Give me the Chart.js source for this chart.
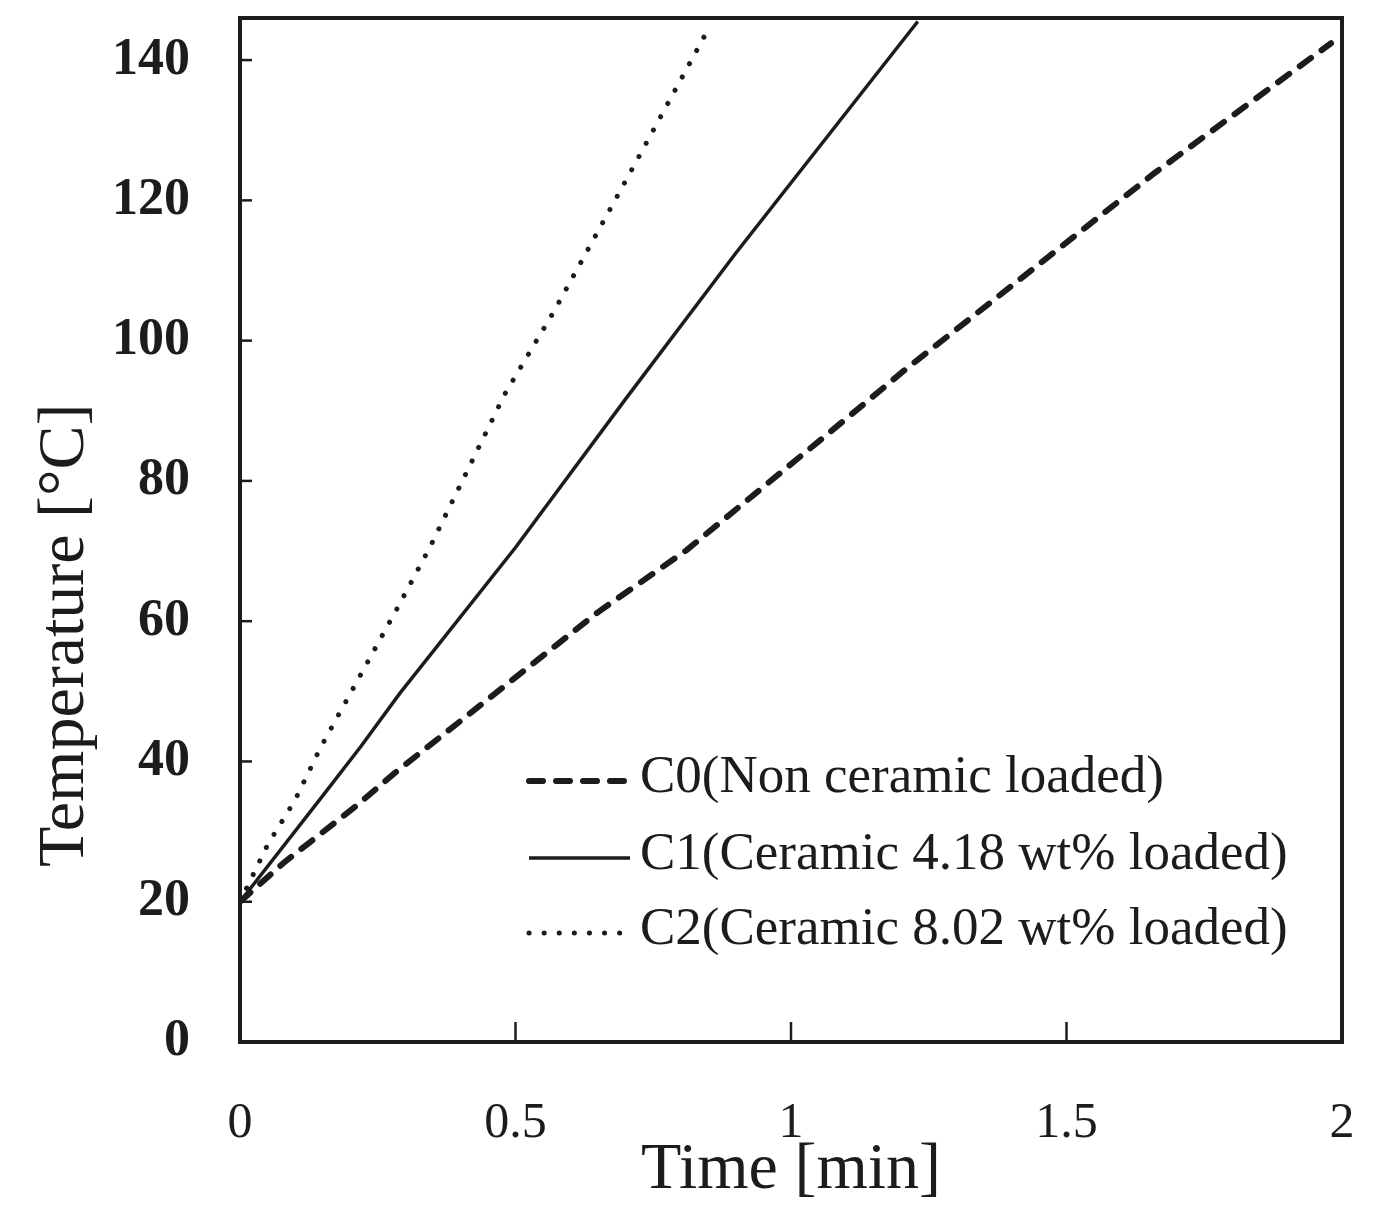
<!DOCTYPE html>
<html>
<head>
<meta charset="utf-8">
<title>Temperature vs time</title>
<script src="https://cdn.jsdelivr.net/npm/chart.js@4.4.1/dist/chart.umd.min.js"></script>
<style>
  html, body { margin: 0; padding: 0; background: #fff; }
  #chart { display: block; }
</style>
</head>
<body>
<canvas id="chart" width="1397" height="1214"></canvas>
<script>
// Values
const seriesNames = [
  'C0(Non ceramic loaded)',
  'C1(Ceramic 4.18 wt% loaded)',
  'C2(Ceramic 8.02 wt% loaded)'
];

const timeC0 = [0, 0.08, 0.21, 0.28, 0.65, 0.81, 1.13, 1.2, 1.66, 1.98];
const tempC0 = [20, 25.6, 33.6, 38.3, 61.3, 70.1, 90.8, 95.4, 123.9, 142.4];

const timeC1 = [0, 0.15, 0.22, 0.29, 0.5, 0.7, 0.9, 1.23];
const tempC1 = [20, 35.1, 42.2, 49.7, 70.5, 91.7, 112.5, 145.5];

const timeC2 = [0, 0.05, 0.1, 0.145, 0.29, 0.345, 0.48, 0.57, 0.705, 0.845];
const tempC2 = [20, 28.1, 34.5, 41.8, 62.5, 70.6, 92.3, 104.2, 123.5, 143.7];

const xTicks = [0, 0.5, 1, 1.5, 2];
const yTicks = [0, 20, 40, 60, 80, 100, 120, 140];

const xTitle = 'Time [min]';
const yTitle = 'Temperature [°C]';

const ink = '#1c1c1c';
const serif = '"Liberation Serif", "Times New Roman", serif';

function toPoints(xs, ys) {
  return xs.map((x, i) => ({ x: x, y: ys[i] }));
}

// no extra room for overhanging tick labels, the frame is placed by layout padding
function noScalePadding(scale) {
  scale.paddingLeft = 0;
  scale.paddingRight = 0;
  scale.paddingTop = 0;
  scale.paddingBottom = 0;
}

// Box frame, inward tick marks, the y title (sits low in the original) and the legend
const framePlugin = {
  id: 'frame',
  afterDatasetsDraw(chart) {
    const { ctx, chartArea: a, scales } = chart;
    ctx.save();
    ctx.strokeStyle = ink;
    ctx.lineWidth = 4;
    ctx.strokeRect(a.left, a.top, a.right - a.left, a.bottom - a.top);

    // inner ticks
    ctx.lineWidth = 2.5;
    yTicks.forEach(v => {
      if (v === 0) return;
      const y = scales.y.getPixelForValue(v);
      ctx.beginPath();
      ctx.moveTo(a.left, y);
      ctx.lineTo(a.left + 12, y);
      ctx.stroke();
    });
    xTicks.forEach(v => {
      if (v === 0 || v === 2) return;
      const x = scales.x.getPixelForValue(v);
      ctx.beginPath();
      ctx.moveTo(x, a.bottom);
      ctx.lineTo(x, a.bottom - 20);
      ctx.stroke();
    });

    // y title
    ctx.save();
    ctx.translate(66, scales.y.getPixelForValue(58));
    ctx.rotate(-Math.PI / 2);
    ctx.font = '66px ' + serif;
    ctx.fillStyle = ink;
    ctx.textAlign = 'center';
    ctx.textBaseline = 'middle';
    ctx.fillText(yTitle, 0, 0);
    ctx.restore();

    // legend
    const rows = [760, 837, 912];
    ctx.font = '53px ' + serif;
    ctx.textAlign = 'left';
    ctx.textBaseline = 'middle';
    chart.data.datasets.forEach((ds, i) => {
      const y = a.top + rows[i];
      ctx.beginPath();
      ctx.strokeStyle = ink;
      ctx.lineWidth = ds.borderWidth;
      ctx.lineCap = ds.borderCapStyle || 'butt';
      ctx.setLineDash(ds.borderDash || []);
      ctx.moveTo(529, y + 3);
      ctx.lineTo(630, y + 3);
      ctx.stroke();
      ctx.setLineDash([]);
      ctx.fillStyle = ink;
      ctx.fillText(ds.label, 640, y);
    });
    ctx.restore();
  }
};

const ctx = document.getElementById('chart').getContext('2d');
new Chart(ctx, {
  type: 'scatter',
  data: {
    datasets: [
      {
        label: seriesNames[0],
        data: toPoints(timeC0, tempC0),
        showLine: true,
        borderColor: ink,
        borderWidth: 6,
        borderDash: [14, 13],
        borderCapStyle: 'round',
        pointRadius: 0,
        tension: 0
      },
      {
        label: seriesNames[1],
        data: toPoints(timeC1, tempC1),
        showLine: true,
        borderColor: ink,
        borderWidth: 3.5,
        pointRadius: 0,
        tension: 0
      },
      {
        label: seriesNames[2],
        data: toPoints(timeC2, tempC2),
        showLine: true,
        borderColor: ink,
        borderWidth: 5,
        borderDash: [0.1, 15],
        borderCapStyle: 'round',
        pointRadius: 0,
        tension: 0
      }
    ]
  },
  options: {
    responsive: false,
    animation: false,
    devicePixelRatio: 1,
    layout: { padding: { top: 18, right: 55, left: 0, bottom: 0 } },
    plugins: {
      legend: { display: false },
      tooltip: { enabled: false }
    },
    scales: {
      x: {
        type: 'linear',
        min: 0,
        max: 2,
        afterFit(scale) { scale.height = 172; noScalePadding(scale); },
        afterBuildTicks(scale) { scale.ticks = xTicks.map(v => ({ value: v })); },
        grid: { display: false, drawTicks: false },
        border: { display: false },
        ticks: {
          padding: 52,
          color: ink,
          font: { family: serif, size: 50 },
          maxRotation: 0,
          callback: v => String(v)
        },
        title: {
          display: true,
          text: xTitle,
          color: ink,
          padding: { top: 0, bottom: 4 },
          font: { family: serif, size: 66 }
        }
      },
      y: {
        type: 'linear',
        min: 0,
        max: 146,
        afterFit(scale) { scale.width = 240; noScalePadding(scale); },
        afterBuildTicks(scale) { scale.ticks = yTicks.map(v => ({ value: v })); },
        grid: { display: false, drawTicks: false },
        border: { display: false },
        ticks: {
          padding: 50,
          color: ink,
          font: { family: serif, size: 52, weight: 'bold' }
        },
        title: { display: false }
      }
    }
  },
  plugins: [framePlugin]
});
</script>
</body>
</html>
